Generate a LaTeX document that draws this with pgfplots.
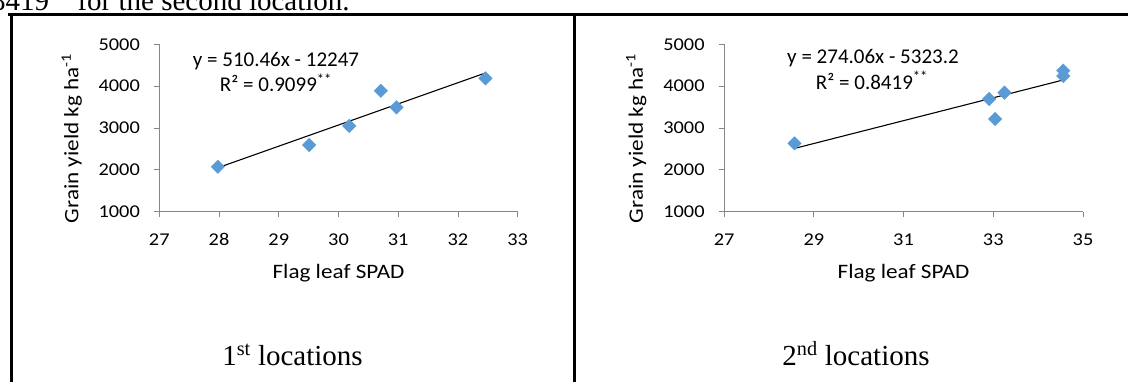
\documentclass[border=0pt]{standalone}
\usepackage{pgfplots}
\pgfplotsset{compat=1.18}
\usepackage{fontspec}
\setmainfont{Liberation Serif}
\newfontfamily\calfont{Carlito}
\newfontfamily\calwide[FakeStretch=1.13]{Carlito}
\definecolor{mk}{RGB}{91,155,213}
\definecolor{axc}{RGB}{134,134,134}

\pgfplotstableread{
x y
27.98 2075
29.51 2594
30.18 3048
30.71 3891
30.97 3494
32.46 4187
}\locA
\pgfplotstableread{
x y
28.57 2634
32.91 3693
33.04 3215
33.25 3843
34.56 4369
34.56 4243
}\locB

\pgfplotsset{
  sp/.style={
    scale only axis,
    height=167.4pt,
    anchor=south west,
    axis lines*=left,
    axis line style={axc, line width=0.9pt},
    tick align=outside,
    major tick length=5.5pt,
    tick style={axc, line width=0.9pt},
    ymin=1000, ymax=5000,
    ytick={1000,2000,3000,4000,5000},
    /pgf/number format/assume math mode=true,
    /pgf/number format/1000 sep={},
    tick label style={font=\fontsize{18}{21}\calwide, inner sep=0pt},
    xticklabel style={anchor=base, yshift=-28.5pt},
    yticklabel style={anchor=east, xshift=-13.8pt},
    xlabel={Flag leaf SPAD},
    ylabel={Grain yield kg ha\textsuperscript{-1}},
    label style={font=\fontsize{20.5}{24}\calwide, inner sep=0pt},
    xlabel style={at={(axis description cs:0.5,-0.402)}, anchor=base},
    ylabel style={at={(axis description cs:-0.226,0.438)}, anchor=base, rotate=0},
    clip=false,
  },
  pts/.style={only marks, mark=square*, mark size=4.8pt,
    mark options={rotate=45, fill=mk, draw=mk, line width=0.3pt}},
  trend/.style={black, line width=1.1pt, no marks},
}

\begin{document}
\begin{tikzpicture}
\useasboundingbox (0pt,0pt) rectangle (1128pt,381pt);
\clip (0pt,0pt) rectangle (1128pt,381pt);

% frame
\draw[line width=2.3pt] (8pt,366.5pt) -- (1130pt,366.5pt);
\draw[line width=3pt] (11pt,367.5pt) -- (11pt,-2pt);
\draw[line width=2.7pt] (574.7pt,367.5pt) -- (574.7pt,-2pt);

% cut-off text at the top
\node[anchor=base west, inner sep=0pt, font=\fontsize{29}{34}\selectfont] at (77.3pt,370pt) {for the second location.};
\node[anchor=base east, inner sep=0pt, font=\fontsize{29}{34}\selectfont] at (70pt,370pt) {0.8419\textsuperscript{**}};

% left panel
\begin{axis}[sp, at={(159.3pt,169.3pt)}, width=358.4pt,
  xmin=27, xmax=33, xtick={27,28,29,30,31,32,33}]
\addplot[pts] table[x=x,y=y] {\locA};
\addplot[trend] coordinates {(27.98,2050) (32.46,4315)};
\end{axis}

% right panel
\begin{axis}[sp, at={(724.1pt,169.3pt)}, width=358.9pt,
  xmin=27, xmax=35, xtick={27,29,31,33,35}]
\addplot[pts] table[x=x,y=y] {\locB};
\addplot[trend] coordinates {(28.57,2512) (34.56,4148)};
\end{axis}

% equations
\node[anchor=base, inner sep=0pt, font=\fontsize{21}{25}\calfont] at (276pt,314.3pt) {y = 510.46x - 12247};
\node[anchor=base, inner sep=0pt, font=\fontsize{21}{25}\calfont] at (276pt,289.3pt) {R² = 0.9099\textsuperscript{**}};
\node[anchor=base, inner sep=0pt, font=\fontsize{21}{25}\calfont] at (873pt,317pt) {y = 274.06x - 5323.2};
\node[anchor=base, inner sep=0pt, font=\fontsize{21}{25}\calfont] at (872pt,291.7pt) {R² = 0.8419\textsuperscript{**}};

% panel titles
\node[anchor=base, inner sep=0pt, font=\fontsize{29}{34}\selectfont] at (292.5pt,16pt) {1\textsuperscript{st} locations};
\node[anchor=base, inner sep=0pt, font=\fontsize{29}{34}\selectfont] at (856pt,16pt) {2\textsuperscript{nd} locations};
\end{tikzpicture}
\end{document}
